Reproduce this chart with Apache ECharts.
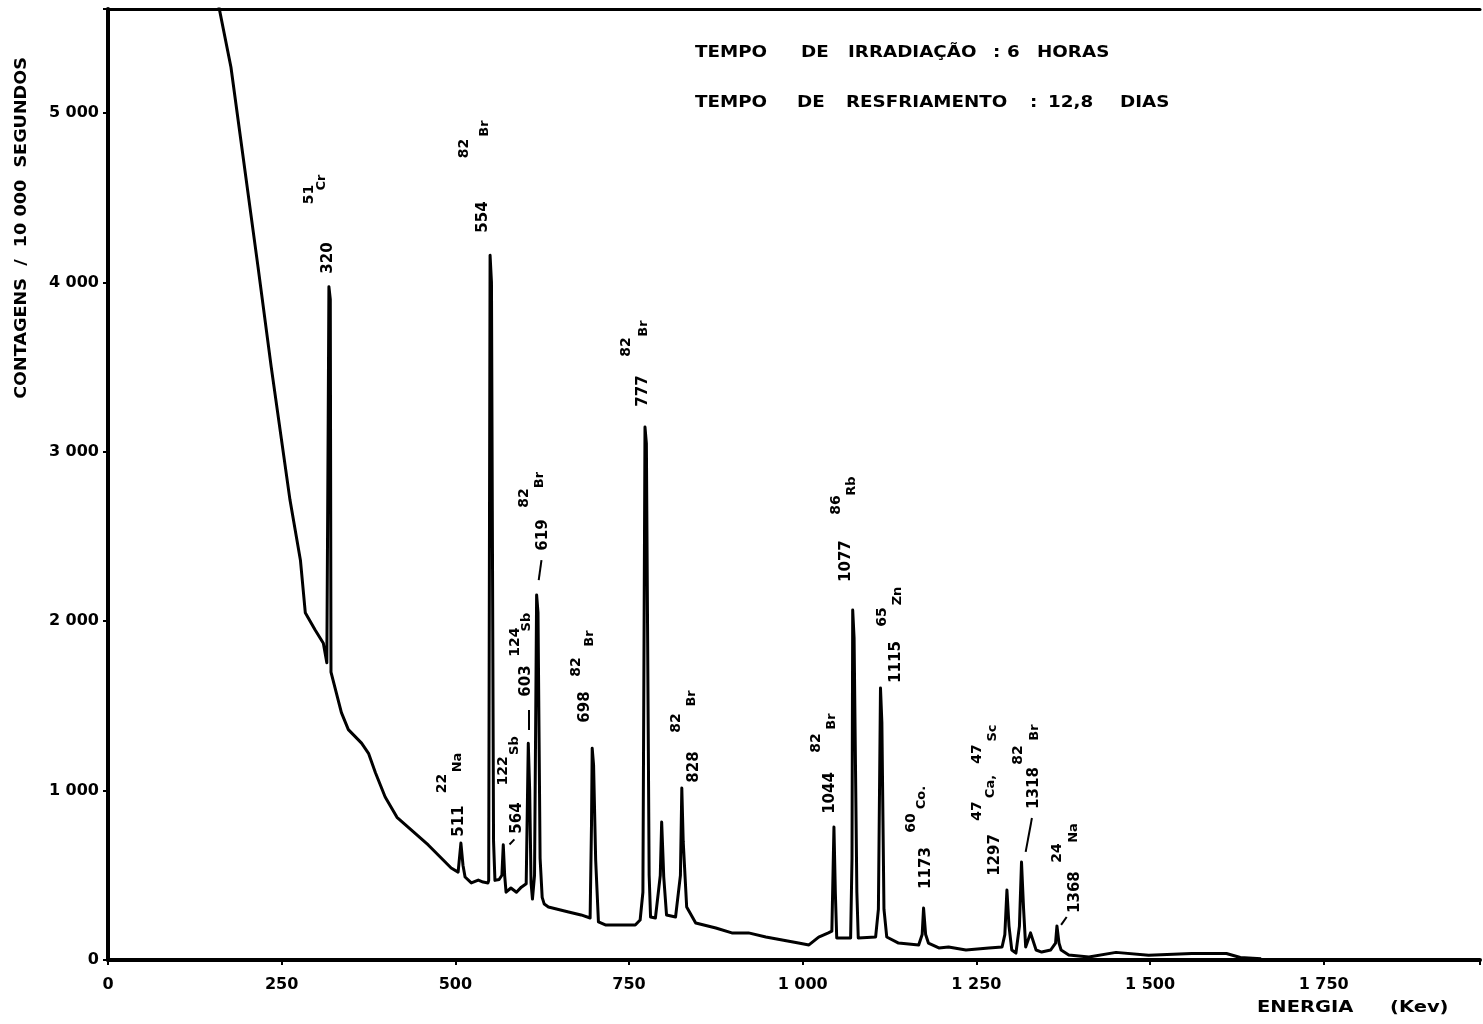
<!DOCTYPE html>
<html>
<head>
<meta charset="utf-8">
<script src="https://cdn.jsdelivr.net/npm/echarts@6/dist/echarts.min.js"></script>
<style>
  html, body { margin: 0; padding: 0; background: #fff; }
  #chart { width: 1483px; height: 1024px; }
</style>
</head>
<body>
<div id="chart"></div>
<script>
// espectro gama: energia (keV) x contagens / 10 000 s
var energia = [159, 177, 216, 235, 262, 277, 284, 298, 310, 315, 317, 318, 320, 321, 336, 346, 365, 375, 385, 399, 416,
  461, 494, 504, 508, 511, 514, 523, 533, 540, 547,
  548, 550, 552, 555, 557, 563,
  567, 569, 571, 573, 580, 588, 595,
  602, 605, 607, 609, 611,
  614, 617, 619, 622, 625, 628, 634, 663, 681, 694,
  696, 697, 699, 702, 706, 716, 759, 766,
  770, 773, 775, 779, 781, 788,
  795, 797, 799, 800, 804, 817,
  824, 826, 828, 833, 846, 875, 898, 922, 947, 994, 1009, 1023, 1037,
  1042, 1045, 1047, 1049, 1069,
  1071, 1072, 1074, 1078, 1080, 1105,
  1109, 1112, 1114, 1117, 1121, 1138, 1167,
  1172, 1174, 1177, 1181, 1196, 1210, 1235, 1268, 1287,
  1291, 1294, 1297, 1301, 1307,
  1312, 1315, 1318, 1321, 1328, 1336, 1344, 1357,
  1364, 1366, 1369, 1372, 1383, 1412, 1451, 1498, 1560, 1610, 1630, 1660];
var contagens = [5640, 5270, 4090, 3500, 2715, 2360, 2050, 1950, 1870, 1755, 3200, 3975, 3900, 1700, 1460, 1360, 1280, 1220, 1105, 962, 842,
  679, 543, 519, 690, 560, 490, 455, 472, 460, 455,
  470, 4160, 4000, 700, 470, 475,
  500, 680, 500, 400, 425, 400, 430,
  450, 1280, 1000, 455, 360,
  500, 2155, 2050, 600, 370, 330, 313, 283, 266, 248,
  800, 1250, 1150, 590, 225, 207, 207, 236,
  400, 3146, 3050, 500, 254, 248,
  500, 815, 600, 490, 266, 254,
  500, 1015, 700, 313, 218, 189, 160, 160, 136, 100, 89, 135, 160,
  170, 785, 400, 130, 130,
  600, 2066, 1900, 400, 130, 136,
  300, 1606, 1400, 300, 136, 100, 89,
  150, 307, 150, 100, 71, 77, 59, 71, 77,
  150, 413, 200, 59, 41,
  200, 578, 300, 77, 160, 59, 47, 59,
  100, 201, 100, 59, 30, 18, 45, 28, 38, 38, 15, 8];

// energias dos picos (rótulos verticais)
var picoRotulo = ['320', '554', '777', '619', '603', '564', '511', '698', '828', '1044', '1077', '1115', '1173', '1297', '1318', '1368'];
var picoX = [317, 540, 771, 627, 602, 589, 506, 687, 843, 1040, 1063, 1135, 1177, 1277, 1333, 1392];
var picoY = [4144, 4386, 3359, 2509, 1647, 838, 820, 1493, 1139, 986, 2355, 1759, 543, 620, 1015, 401];

// isótopos: número de massa e símbolo
var massaRotulo = ['51', '82', '82', '82', '124', '122', '22', '82', '82', '82', '86', '65', '60', '47', '47', '82', '24'];
var massaX = [290, 513, 746, 599, 586, 569, 481, 674, 818, 1020, 1048, 1114, 1156, 1251, 1252, 1311, 1367];
var massaY = [4519, 4790, 3619, 2727, 1877, 1116, 1042, 1730, 1399, 1281, 2686, 2025, 809, 880, 1216, 1210, 632];
var elemRotulo = ['Cr', 'Br', 'Br', 'Br', 'Sb', 'Sb', 'Na', 'Br', 'Br', 'Br', 'Rb', 'Zn', 'Co.', 'Ca,', 'Sc', 'Br', 'Na'];
var elemX = [308, 542, 771, 621, 602, 586, 504, 694, 840, 1042, 1071, 1137, 1171, 1271, 1273, 1334, 1390];
var elemY = [4590, 4908, 3728, 2833, 1995, 1266, 1166, 1898, 1544, 1408, 2798, 2149, 959, 1024, 1340, 1343, 750];

// tracinhos de ligação rótulo -> pico
var guias = [[624, 2361, 620, 2243], [605, 1476, 605, 1358], [585, 712, 578, 682], [1330, 838, 1321, 638], [1380, 254, 1372, 207]];

var cabecalho1 = [['TEMPO', 695], ['DE', 801], ['IRRADIAÇÃO', 848], [':', 993], ['6', 1007], ['HORAS', 1037]];
var cabecalho2 = [['TEMPO', 695], ['DE', 797], ['RESFRIAMENTO', 846], [':', 1030], ['12,8', 1048], ['DIAS', 1120]];

var fonte = 'DejaVu Sans';

function milhar(v) {
  if (v < 1000) return String(v);
  var r = String(v % 1000);
  while (r.length < 3) r = '0' + r;
  return Math.floor(v / 1000) + ' ' + r;
}

function rotulos(xs, ys, textos) {
  var out = [];
  for (var i = 0; i < textos.length; i++) out.push([xs[i], ys[i], textos[i]]);
  return out;
}

function serieRotulo(nome, dados, tam) {
  return {
    name: nome, type: 'scatter', silent: true, symbolSize: 0,
    itemStyle: { color: '#000', opacity: 1 },
    data: dados,
    label: {
      show: true, position: 'inside', rotate: 90, opacity: 1,
      formatter: function (p) { return p.value[2]; },
      color: '#000', fontFamily: fonte, fontWeight: 'bold', fontSize: tam
    },
    z: 5
  };
}

function palavra(texto, x, y, escala) {
  return { type: 'text', x: x, y: y, scaleX: escala,
    style: { text: texto, fill: '#000', font: 'bold 15px ' + fonte, textAlign: 'left', textVerticalAlign: 'middle' } };
}

var graficos = [];
cabecalho1.forEach(function (w) { graficos.push(palavra(w[0], w[1], 53, 1.22)); });
cabecalho2.forEach(function (w) { graficos.push(palavra(w[0], w[1], 103, 1.22)); });
graficos.push(palavra('ENERGIA', 1257, 1008, 1.3));
graficos.push(palavra('(Kev)', 1390, 1008, 1.3));
graficos.push({ type: 'text', x: 22, y: 228, rotation: Math.PI / 2, scaleX: 1.1,
  style: { text: 'CONTAGENS  /  10 000  SEGUNDOS', fill: '#000', font: 'bold 16px ' + fonte, textAlign: 'center', textVerticalAlign: 'middle' } });

var eixoTexto = { color: '#000', fontFamily: fonte, fontWeight: 'bold', fontSize: 16 };

var option = {
  animation: false,
  backgroundColor: '#fff',
  grid: { left: 108, right: 0, top: 9, bottom: 64 },
  xAxis: [{
    type: 'value', min: 0, max: 1975, interval: 250,
    axisLine: { show: true, lineStyle: { color: '#000', width: 4 } },
    axisTick: { show: true, length: 5, lineStyle: { color: '#000', width: 2 } },
    axisLabel: Object.assign({ margin: 17, formatter: function (v) { return v % 250 ? '' : milhar(v); } }, eixoTexto),
    splitLine: { show: false }
  }, {
    type: 'value', position: 'top', min: 0, max: 1975,
    axisLine: { show: true, lineStyle: { color: '#000', width: 3 } },
    axisTick: { show: false }, axisLabel: { show: false }, splitLine: { show: false }
  }],
  yAxis: {
    type: 'value', min: 0, max: 5614, interval: 1000,
    axisLine: { show: true, lineStyle: { color: '#000', width: 4 } },
    axisTick: { show: true, length: 5, lineStyle: { color: '#000', width: 2 } },
    axisLabel: Object.assign({ margin: 9, formatter: function (v) { return v % 1000 ? '' : milhar(v); } }, eixoTexto),
    splitLine: { show: false }
  },
  graphic: graficos,
  series: [{
    name: 'espectro', type: 'line', showSymbol: false, silent: true,
    data: energia.map(function (e, i) { return [e, contagens[i]]; }),
    lineStyle: { color: '#000', width: 3, join: 'round' },
    z: 3
  }, {
    name: 'guias', type: 'lines', coordinateSystem: 'cartesian2d', silent: true,
    data: guias.map(function (g) { return { coords: [[g[0], g[1]], [g[2], g[3]]] }; }),
    lineStyle: { color: '#000', width: 2, opacity: 1 }
  },
    serieRotulo('energias', rotulos(picoX, picoY, picoRotulo), 15),
    serieRotulo('massas', rotulos(massaX, massaY, massaRotulo), 14),
    serieRotulo('elementos', rotulos(elemX, elemY, elemRotulo), 13)
  ]
};

var chart = echarts.init(document.getElementById('chart'));
chart.setOption(option);
</script>
</body>
</html>
